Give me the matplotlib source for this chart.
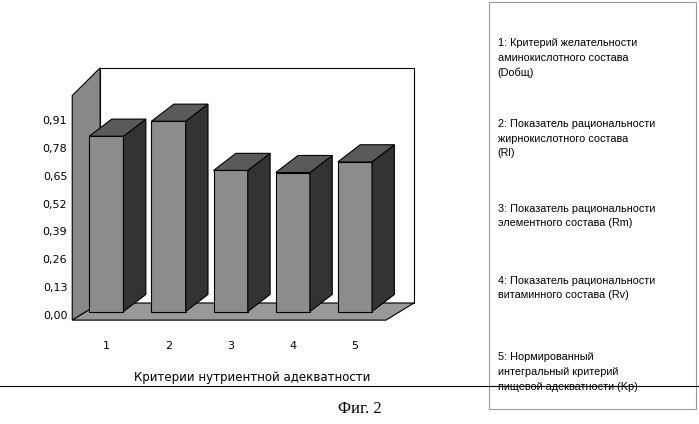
import matplotlib
matplotlib.use("Agg")
import matplotlib.pyplot as plt
from matplotlib.patches import Polygon

categories = ["1", "2", "3", "4", "5"]
values = [0.86, 0.93, 0.70, 0.69, 0.74]
yticks = [0.00, 0.13, 0.26, 0.39, 0.52, 0.65, 0.78, 0.91]
legend_items = ["1: Критерий желательности\nаминокислотного состава\n(Dобщ)",
                "2: Показатель рациональности\nжирнокислотного состава\n(Rl)",
                "3: Показатель рациональности\nэлементного состава (Rm)",
                "4: Показатель рациональности\nвитаминного состава (Rv)",
                "5: Нормированный\nинтегральный критерий\nпищевой адекватности (Kp)"]

fig = plt.figure(figsize=(6.99, 4.24), dpi=100)
ax = fig.add_axes([0.09, 0.245, 0.52, 0.58])
ax.set_xlim(0.35, 6.2)
ax.set_ylim(0, 1.15)
ax.axis("off")
dx, dy = 0.45, 0.08
def poly(pts, fc):
    ax.add_patch(Polygon(pts, fc=fc, ec="black", lw=0.8, clip_on=False))
poly([(0.5, 0), (0.5+dx, dy), (0.5+dx, 1.1+dy), (0.5, 1.1-0.05)], "#888888")
poly([(0.5+dx, dy), (6.0, dy), (6.0, 1.1+dy), (0.5+dx, 1.1+dy)], "white")
poly([(0.5, 0), (6.0-dx, 0), (6.0, dy), (0.5+dx, dy)], "#999999")
for t in yticks:
    ax.text(0.42, t + 0.02, f"{t:.2f}".replace(".", ","), ha="right", va="center", fontsize=8)
w = 0.55
for i, v in enumerate(values):
    x0 = i + 1 - w/2 + 0.05
    b = 0.04
    poly([(x0, b), (x0+w, b), (x0+w, v), (x0, v)], "#8c8c8c")
    poly([(x0+w, b), (x0+w+dx*0.8, b+dy), (x0+w+dx*0.8, v+dy), (x0+w, v)], "#333333")
    poly([(x0, v), (x0+w, v), (x0+w+dx*0.8, v+dy), (x0+dx*0.8, v+dy)], "#5a5a5a")
    ax.text(i + 1.05, -0.12, categories[i], ha="center", va="center", fontsize=8)
ax.text(3.4, -0.27, "Критерии нутриентной адекватности", ha="center", va="center", fontsize=8.5)

fig.patches.append(Polygon([(0.70, 0.035), (0.995, 0.035), (0.995, 0.995), (0.70, 0.995)], closed=True,
                           transform=fig.transFigure, fc="none", ec="#999999", lw=0.8))
ys = [0.91, 0.72, 0.52, 0.35, 0.17]
for y, s in zip(ys, legend_items):
    fig.text(0.712, y, s, fontsize=7.8, va="top", ha="left", linespacing=1.6, family="Liberation Sans")
fig.add_artist(plt.Line2D([0, 1], [0.09, 0.09], transform=fig.transFigure, color="black", lw=0.8))
fig.text(0.515, 0.035, "Фиг. 2", fontsize=12, family="Liberation Serif", ha="center", va="center")
fig.savefig("out.png", dpi=100, facecolor="white")
